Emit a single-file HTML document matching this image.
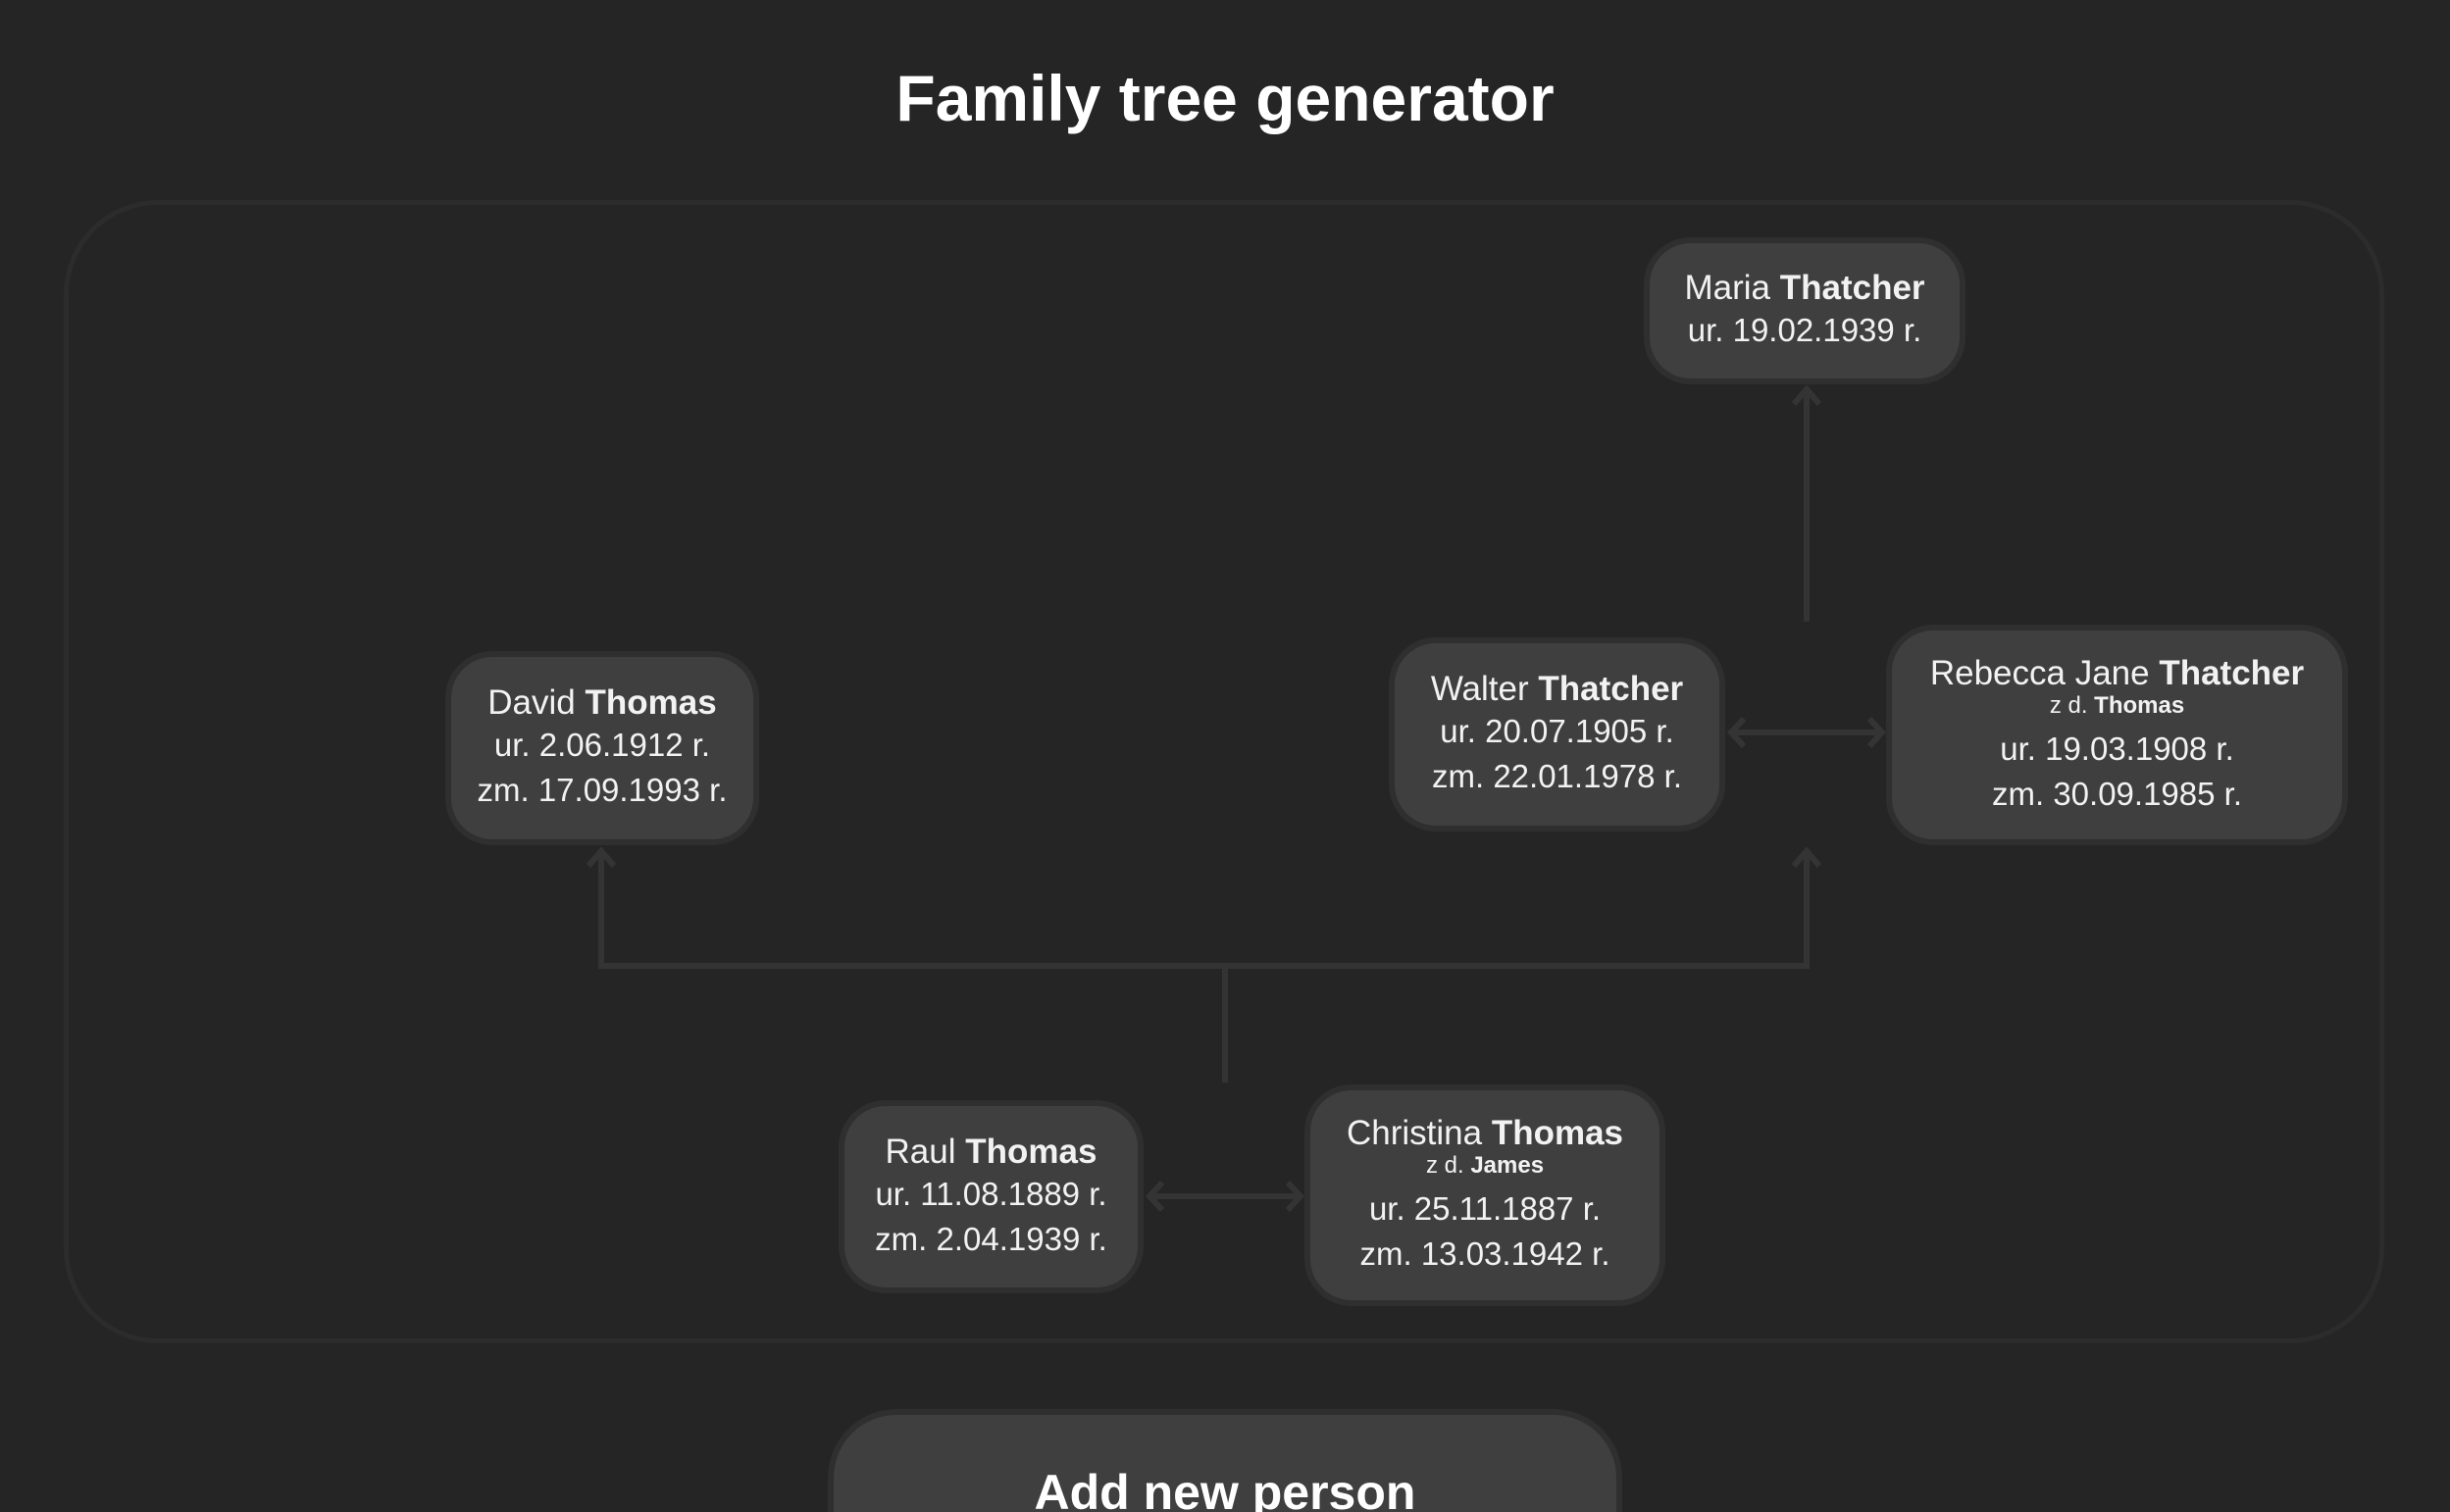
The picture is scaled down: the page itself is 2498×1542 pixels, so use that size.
<!DOCTYPE html>
<html><head><meta charset="utf-8"><style>
html{margin:0;padding:0;height:1542px;overflow:hidden;background:#252525;}
body{margin:0;padding:0;background:#252525;width:2498px;height:1542px;overflow:hidden;position:relative;font-family:"Liberation Sans",sans-serif;color:#f2f2f2;}
.t{position:absolute;left:0;width:2498px;text-align:center;top:62px;font-size:66px;font-weight:bold;color:#fff;}
.c{position:absolute;left:65px;top:204px;width:2356px;height:1156px;border:5px solid #2c2c2c;border-radius:96px;}
.n{position:absolute;box-sizing:border-box;background:#3f3f3f;border:6px solid #2f2f2f;border-radius:48px;display:flex;flex-direction:column;align-items:center;justify-content:center;text-align:center;font-size:33px;line-height:46px;}
.n b{font-weight:bold}
.nm{font-size:35px;line-height:40px}
.zd{font-size:24px;line-height:26px;margin-bottom:8px}
.add{position:absolute;left:844px;top:1437px;width:810px;height:105px;box-sizing:border-box;background:#3f3f3f;border:6px solid #2f2f2f;border-bottom:none;border-radius:70px 70px 0 0;text-align:center;font-size:50px;font-weight:bold;padding-top:50px;color:#fff;overflow:hidden;}
svg{position:absolute;left:0;top:0}
</style></head><body>
<div class="t">Family tree generator</div>
<div class="c"></div>
<svg width="2498" height="1542" fill="none" stroke="#343434" stroke-width="6">
<path d="M1842 634V397M1829 412l13-15 13 15"/>
<path d="M1764 747H1920M1778 733l-13 14 13 14M1906 733l13 14-13 14"/>
<path d="M613 868V985H1842V868M600 883l13-15 13 15M1829 883l13-15 13 15"/>
<path d="M1249 985V1104"/>
<path d="M1171 1220H1327M1185 1206l-13 14 13 14M1313 1206l13 14-13 14"/>
</svg>
<div class="n" style="left:1676px;top:242px;width:328px;height:150px"><div class="nm">Maria <b>Thatcher</b></div><div>ur. 19.02.1939 r.</div></div>
<div class="n" style="left:454px;top:664px;width:320px;height:198px"><div class="nm">David <b>Thomas</b></div><div>ur. 2.06.1912 r.</div><div>zm. 17.09.1993 r.</div></div>
<div class="n" style="left:1416px;top:650px;width:343px;height:198px"><div class="nm">Walter <b>Thatcher</b></div><div>ur. 20.07.1905 r.</div><div>zm. 22.01.1978 r.</div></div>
<div class="n" style="left:1923px;top:637px;width:471px;height:225px"><div class="nm">Rebecca Jane <b>Thatcher</b></div><div class="zd">z d. <b>Thomas</b></div><div>ur. 19.03.1908 r.</div><div>zm. 30.09.1985 r.</div></div>
<div class="n" style="left:855px;top:1122px;width:311px;height:197px"><div class="nm">Raul <b>Thomas</b></div><div>ur. 11.08.1889 r.</div><div>zm. 2.04.1939 r.</div></div>
<div class="n" style="left:1330px;top:1106px;width:368px;height:226px"><div class="nm">Christina <b>Thomas</b></div><div class="zd">z d. <b>James</b></div><div>ur. 25.11.1887 r.</div><div>zm. 13.03.1942 r.</div></div>
<div class="add">Add new person</div>
</body></html>
